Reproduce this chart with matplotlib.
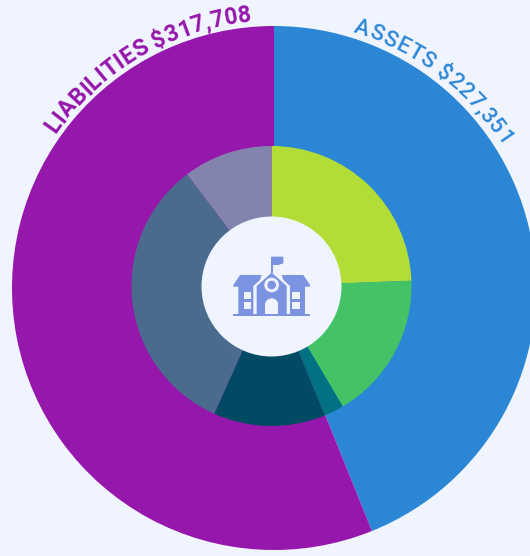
import numpy as np
import matplotlib
matplotlib.use('Agg')
import matplotlib.pyplot as plt
from matplotlib.font_manager import FontProperties
from matplotlib.patches import Circle, Polygon, Wedge
from matplotlib.textpath import TextPath

# arcs as drawn in the picture (percent of the ring)
outer_labels = ['ASSETS $227,351', 'LIABILITIES $317,708']
outer_values = [43.9, 56.1]
outer_colors = ['#2b87d6', '#9517ab']

inner_values = [24.4, 17.1, 2.3, 12.9, 33.0, 10.3]
inner_colors = ['#b2dd37', '#43c366', '#007282', '#004b63', '#4a6a8e', '#8384ae']

BG = '#eff4ff'
ICON = '#7b93e0'
H = 556


def curved_text(ax, txt, color, start_deg, radius, size, weight, spacing=1.0):
    # place each letter along the circle, angle measured clockwise from the top
    fp = FontProperties(family='Roboto', size=size, weight=weight)
    scale = 100 / 72 * spacing
    bar = TextPath((0, 0), '|', prop=fp).get_extents().x1
    pos = 0.0
    for i, ch in enumerate(txt):
        a = start_deg + np.degrees(pos / radius)
        x = 274 + radius * np.sin(np.radians(a))
        y = (H - 288) + radius * np.cos(np.radians(a))
        ax.text(x, y, ch, color=color, fontproperties=fp, rotation=-a,
                rotation_mode='anchor', ha='left', va='baseline')
        pos = (TextPath((0, 0), txt[:i + 1] + '|', prop=fp).get_extents().x1 - bar) * scale


def icon_xy(X, Y):
    # coordinates read on the 3x crop of the icon
    return 190 + X / 3, H - (210 + Y / 3)


def draw_icon(ax):
    def poly(pts, color):
        ax.add_patch(Polygon([icon_xy(*p) for p in pts], closed=True, fc=color, ec='none', zorder=5))

    # wings with their roofs
    poly([(130, 225), (150, 195), (215, 195), (205, 225), (205, 315), (145, 315), (145, 230), (130, 230)], ICON)
    poly([(360, 225), (340, 195), (275, 195), (285, 225), (285, 315), (345, 315), (345, 230), (360, 230)], ICON)
    # white gap then central gable
    poly([(245, 178), (300, 228), (300, 318), (190, 318), (190, 228)], BG)
    poly([(245, 188), (290, 228), (290, 315), (200, 315), (200, 228)], ICON)
    # flag
    poly([(243, 140), (248, 140), (248, 190), (243, 190)], ICON)
    poly([(245, 140), (280, 140), (280, 160), (265, 165), (245, 165)], ICON)
    # door
    cx, cy = icon_xy(245, 285)
    ax.add_patch(Wedge((cx, cy), 20 / 3, 0, 180, fc=BG, ec='none', zorder=6))
    poly([(225, 285), (265, 285), (265, 316), (225, 316)], BG)
    # clock
    cx, cy = icon_xy(245, 225)
    ax.add_patch(Circle((cx, cy), 22 / 3, fc=BG, ec='none', zorder=6))
    ax.add_patch(Circle((cx, cy), 13 / 3, fc=ICON, ec='none', zorder=7))
    # windows
    for X in (162, 307):
        for Y in (245, 275):
            poly([(X, Y), (X + 22, Y), (X + 22, Y + 22), (X, Y + 22)], BG)
    # ground line
    poly([(130, 313), (360, 313), (360, 318), (130, 318)], ICON)


def main():
    fig = plt.figure(figsize=(5.3, 5.56), dpi=100, facecolor=BG)
    ax = fig.add_axes([0, 0, 1, 1])
    ax.set_facecolor(BG)

    ax.pie(outer_values, colors=outer_colors, startangle=90, counterclock=False,
           center=(274, H - 288), radius=262)
    ax.pie(inner_values, colors=inner_colors, startangle=90, counterclock=False,
           center=(271.5, H - 286), radius=140)
    ax.add_patch(Circle((271.5, H - 286.5), 70, fc=BG, ec='none', zorder=4))

    ax.set_xlim(0, 530)
    ax.set_ylim(0, H)
    ax.set_aspect('equal')
    ax.axis('off')

    curved_text(ax, outer_labels[0], outer_colors[0], 17.2, 268, 16, 'medium', spacing=1.07)
    curved_text(ax, outer_labels[1], outer_colors[1], -54.8, 267, 16.5, 'bold', spacing=1.035)
    draw_icon(ax)

    fig.savefig('out.png', dpi=100, facecolor=BG)


if __name__ == '__main__':
    main()
